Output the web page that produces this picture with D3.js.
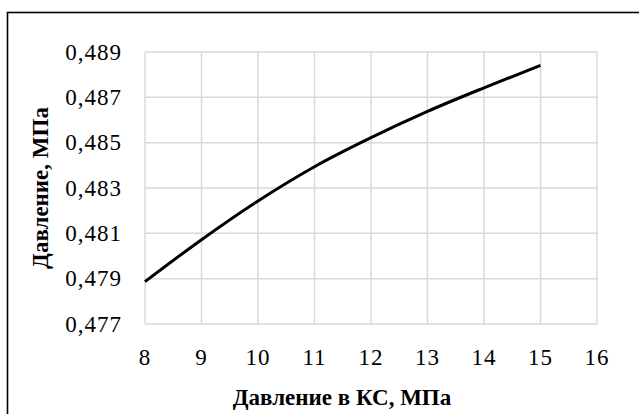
<!DOCTYPE html>
<html><head><meta charset="utf-8">
<script src="https://cdn.jsdelivr.net/npm/d3@7/dist/d3.min.js"></script>
<style>body{margin:0;background:#fff;}svg{display:block;}</style>
</head><body>
<script>
const xValues = [8, 9, 10, 11, 12, 13, 14, 15];
const yValues = [0.47887, 0.48072, 0.48243, 0.48394, 0.48522, 0.48638, 0.48742, 0.48841];
const xTicks = [8, 9, 10, 11, 12, 13, 14, 15, 16];
const yTicks = [0.477, 0.479, 0.481, 0.483, 0.485, 0.487, 0.489];
const xTitle = "Давление в КС, МПа";
const yTitle = "Давление, МПа";

const W = 639, H = 414;
const svg = d3.select("body").append("svg").attr("width", W).attr("height", H);
svg.append("rect").attr("width", W).attr("height", H).attr("fill", "#fff");
svg.append("rect").attr("x", 7.5).attr("y", 12.5).attr("width", W).attr("height", H)
  .attr("fill", "none").attr("stroke", "#000").attr("stroke-width", 1.6);

const x = d3.scaleLinear().domain([8, 16]).range([145, 597]);
const y = d3.scaleLinear().domain([0.477, 0.489]).range([324, 52]);
const font = '"Liberation Serif", "Times New Roman", serif';

const g = svg.append("g");
g.selectAll(".vg").data(xTicks).join("line")
  .attr("x1", d => x(d)).attr("x2", d => x(d)).attr("y1", y(0.489)).attr("y2", y(0.477))
  .attr("stroke", "#d9d9d9").attr("stroke-width", 1.5);
g.selectAll(".hg").data(yTicks).join("line")
  .attr("y1", d => y(d)).attr("y2", d => y(d)).attr("x1", x(8)).attr("x2", x(16))
  .attr("stroke", "#d9d9d9").attr("stroke-width", 1.5);

g.selectAll(".xt").data(xTicks).join("text")
  .attr("x", d => x(d)).attr("y", 365).attr("text-anchor", "middle")
  .style("font-family", font).style("font-size", "23px").attr("fill", "#000")
  .style("letter-spacing", "1px")
  .text(d => d);
g.selectAll(".yt").data(yTicks).join("text")
  .attr("x", 122).attr("y", d => y(d)).attr("dy", "0.34em").attr("text-anchor", "end")
  .style("font-family", font).style("font-size", "23px").attr("fill", "#000")
  .style("letter-spacing", "1px")
  .text(d => d3.format(".3f")(d).replace(".", ","));

const line = d3.line().x((d, i) => x(xValues[i])).y(d => y(d)).curve(d3.curveMonotoneX);
svg.append("path").datum(yValues).attr("d", line).attr("fill", "none")
  .attr("stroke", "#000").attr("stroke-width", 3);

svg.append("text").attr("x", 342).attr("y", 405).attr("text-anchor", "middle")
  .style("font-family", font).style("font-weight", "bold").style("font-size", "23px")
  .attr("fill", "#000").text(xTitle);
svg.append("text").attr("transform", "translate(48,188) rotate(-90)").attr("text-anchor", "middle")
  .style("font-family", font).style("font-weight", "bold").style("font-size", "23px")
  .attr("fill", "#000").text(yTitle);
</script>
</body></html>
